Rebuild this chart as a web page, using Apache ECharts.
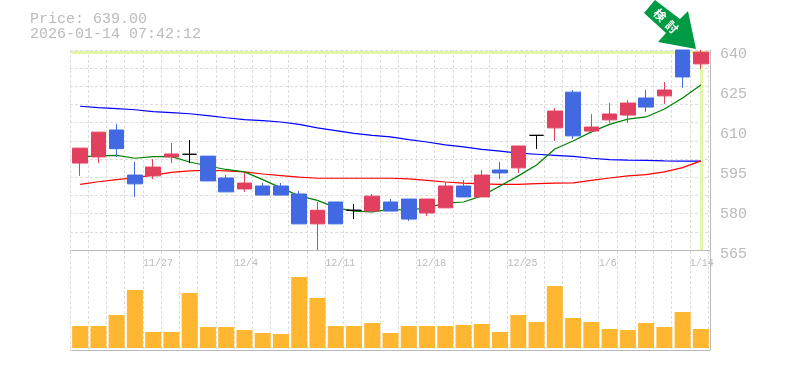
<!DOCTYPE html>
<html>
<head>
<meta charset="utf-8">
<style>
  html, body { margin: 0; padding: 0; background: #fff; }
  #chart { width: 785px; height: 370px; }
</style>
<script src="https://cdn.jsdelivr.net/npm/echarts@6/dist/echarts.min.js"></script>
</head>
<body>
<div id="chart"></div>
<script>
// [open, close, low, high] - close above open is drawn blue, below it red
const candles = [
  [603.2, 597.6, 592.8, 603.2], [609.2, 599.9, 597.6, 609.2], [603, 610, 599.9, 612.2],
  [589.8, 593.1, 584.9, 598], [596.1, 592.8, 591.6, 599.1], [601, 599.9, 597.6, 605.1],
  [600.9, 600.9, 597.6, 606.2], [590.9, 600.2, 590.9, 600.2], [586.8, 592, 586.8, 593.1],
  [590.1, 587.9, 586.8, 594.2], [585.6, 589, 585.6, 590.1], [585.6, 589, 585.6, 590.1],
  [574.8, 586, 574.8, 587.1], [579.9, 574.8, 565, 583], [574.8, 583, 574.8, 583],
  [579.9, 579.9, 576.6, 582.2], [585.2, 579.6, 579.6, 586], [579.6, 583, 579.6, 584.1],
  [576.6, 584.1, 575.9, 584.1], [584.1, 578.9, 577.8, 584.1], [589, 580.8, 580.8, 590.5],
  [584.9, 589, 584.9, 591.2], [593.1, 584.9, 584.9, 595], [593.9, 595, 591.6, 598],
  [604, 595.8, 593.9, 604], [608, 608, 602.9, 608], [617.1, 610.8, 605.9, 618.2],
  [607.8, 624.2, 606.6, 625], [611.1, 609.6, 608.9, 616], [616, 613.8, 612.6, 620.1],
  [620.1, 615.6, 612.6, 621.2], [618.6, 622, 616.8, 625], [625, 622.8, 619.8, 628],
  [629.9, 640, 625.8, 640], [639.2, 634.8, 632.9, 640]
]
const ma5 = [
  599.9, 600.3, 600.5, 599.4, 600, 600, 598, 596.5, 595.2, 594.3, 591.4, 588.3,
  585.3, 583.6, 580.9, 579.6, 579.3, 580.2, 580, 580.8, 582.6, 583, 585.3, 589,
  592.8, 596.9, 602.9, 605.9, 609.3, 612.1, 614.1, 614.9, 617.9, 622, 626.9
]
const ma25 = [
  589.6, 590.6, 591.4, 592.1, 593.1, 594.1, 594.7, 594.9, 594.7, 594.3, 593.5, 592.9,
  592.3, 591.9, 591.9, 591.9, 591.9, 591.9, 591.7, 591.1, 590.5, 590.1, 589.8, 589.6,
  589.6, 589.9, 590.1, 590.2, 591.1, 592, 592.8, 593.3, 594.3, 595.9, 598.4
]
const ma75 = [
  618.9, 618.4, 618, 617.6, 616.9, 616.5, 616.1, 615.4, 614.6, 613.9, 613.5, 613,
  612.1, 610.8, 609.8, 608.7, 608, 607.4, 606.4, 605.5, 604.4, 603.7, 602.7, 602.1,
  601.3, 600.9, 600.5, 600.1, 599.4, 598.9, 598.7, 598.6, 598.4, 598.3, 598.3
]
const volumes = [
  22, 22, 33, 58, 16, 16, 55, 21, 21, 18, 15, 14, 71, 50, 22, 22, 25, 15,
  22, 22, 22, 23, 24, 16, 33, 26, 62, 30, 26, 19, 18, 25, 21, 36, 19
]
const days = candles.map((d, i) => i)
const dateLabels = { 4: '11/27', 9: '12/4', 14: '12/11', 19: '12/18', 24: '12/25', 29: '1/6', 34: '1/14' }
const priceText = 'Price: 639.00'
const timeText = '2026-01-14 07:42:12'
const lastPrice = 639.2
const lastDay = 34

const gray = '#bbbbbb'
const gridGray = '#dddddd'
const mono = '"Liberation Mono", monospace'

const chart = echarts.init(document.getElementById('chart'))

let dashed = { show: true, lineStyle: { color: gridGray, width: 1, type: [3, 2] } }
let solid = { show: true, onZero: false, lineStyle: { color: gray, width: 1 } }
let hidden = { axisLine: { show: false }, axisTick: { show: false }, axisLabel: { show: false }, splitLine: { show: false } }

let glyph = (text, x, y) => ({
  type: 'text', z: 11, x: x, y: y, rotation: -Math.PI / 4,
  style: {
    text: text, fill: '#fff', fontSize: 12, fontWeight: 'bold',
    fontFamily: '"Noto Sans CJK JP"', align: 'center', verticalAlign: 'middle'
  }
})

chart.setOption({
  animation: false,
  backgroundColor: '#fff',
  title: {
    text: priceText + '\n' + timeText,
    left: 25, top: 7,
    textStyle: { color: gray, fontFamily: mono, fontSize: 15, fontWeight: 'normal', lineHeight: 15 }
  },
  // the marks sit a pixel right of the dotted day lines, so each panel has two grids
  grid: [
    { left: 71, top: 50, width: 639, height: 200 },
    { left: 70, top: 50, width: 638, height: 200 },
    { left: 71, top: 251, width: 639, height: 99 },
    { left: 70, top: 251, width: 638, height: 99 }
  ],
  xAxis: [
    { type: 'category', gridIndex: 0, data: days, boundaryGap: true, position: 'bottom', ...hidden, axisLine: solid },
    // day boundaries and date labels, which start at the left of their day
    {
      type: 'value', gridIndex: 1, min: 0, max: 35, interval: 1, position: 'bottom',
      axisLine: { show: false }, axisTick: { show: false }, splitLine: dashed,
      axisLabel: {
        align: 'left', margin: 8, color: gray, fontFamily: mono, fontSize: 10,
        formatter: v => dateLabels[v] || ''
      }
    },
    { type: 'category', gridIndex: 2, data: days, boundaryGap: true, position: 'bottom', ...hidden, axisLine: solid },
    {
      type: 'value', gridIndex: 3, min: 0, max: 35, interval: 1, position: 'bottom',
      ...hidden, splitLine: dashed
    }
  ],
  yAxis: [
    {
      type: 'value', gridIndex: 0, position: 'right', min: 565, max: 640, interval: 15,
      axisLine: solid, axisTick: { show: false }, splitLine: { show: false },
      axisLabel: { margin: 10, color: gray, fontFamily: mono, fontSize: 15, verticalAlign: 'top', lineHeight: 8 }
    },
    // the dotted rows do not line up with the price labels
    { type: 'value', gridIndex: 1, position: 'left', min: 0, max: 11, interval: 1, ...hidden, splitLine: dashed },
    { type: 'value', gridIndex: 2, position: 'right', min: -2, max: 97, ...hidden, axisLine: solid },
    { type: 'value', gridIndex: 3, position: 'left', min: 0, max: 1, ...hidden }
  ],
  series: [
    {
      name: 'now', type: 'line', xAxisIndex: 0, yAxisIndex: 0, data: [], z: 1,
      markLine: {
        silent: true, symbol: 'none', z: 1, label: { show: false },
        lineStyle: { color: '#e3f5a8', width: 3, type: 'solid' },
        data: [{ yAxis: lastPrice }, { xAxis: lastDay }]
      }
    },
    { name: 'ma75', type: 'line', xAxisIndex: 0, yAxisIndex: 0, data: ma75, showSymbol: false, z: 2, lineStyle: { color: '#0000ff', width: 1.2 } },
    { name: 'ma25', type: 'line', xAxisIndex: 0, yAxisIndex: 0, data: ma25, showSymbol: false, z: 2, lineStyle: { color: '#ff0000', width: 1.2 } },
    { name: 'ma5', type: 'line', xAxisIndex: 0, yAxisIndex: 0, data: ma5, showSymbol: false, z: 2, lineStyle: { color: '#008000', width: 1.2 } },
    {
      name: 'price', type: 'candlestick', xAxisIndex: 0, yAxisIndex: 0, data: candles, barWidth: 15, z: 3,
      itemStyle: {
        color: '#4169e1', color0: '#e2405f',
        borderColor: '#4169e1', borderColor0: '#e2405f', borderColorDoji: '#000', borderWidth: 1
      }
    },
    {
      name: 'volume', type: 'bar', xAxisIndex: 2, yAxisIndex: 2, data: volumes, barWidth: 16, z: 3,
      itemStyle: { color: '#ffb732' }
    }
  ],
  graphic: [
    {
      type: 'polygon', z: 10,
      shape: { points: [[644, 13], [655, 0], [680, 19], [688, 11], [696, 49], [658, 42], [666, 33]] },
      style: { fill: '#009944' }
    },
    glyph('検', 660, 15),
    glyph('討', 672, 27)
  ]
})
</script>
</body>
</html>
